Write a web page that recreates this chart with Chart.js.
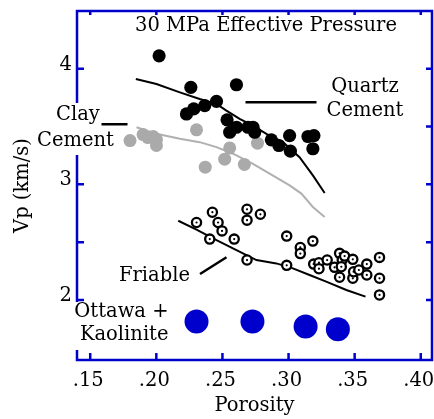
<!DOCTYPE html>
<html>
<head>
<meta charset="utf-8">
<script src="https://cdn.jsdelivr.net/npm/chart.js@4.4.1/dist/chart.umd.min.js"></script>
<style>
  html, body { margin: 0; padding: 0; background: #ffffff; }
  #c { display: block; }
</style>
</head>
<body>
<canvas id="c" width="434" height="419"></canvas>
<script>
// ---- Data (porosity, Vp km/s) ----
const quartzX = [0.2021, 0.2261, 0.2606, 0.2228, 0.2283, 0.2366, 0.2455, 0.2535, 0.2555, 0.2606, 0.2693, 0.2731, 0.2744, 0.2870, 0.2927, 0.3008, 0.3014, 0.3147, 0.3192, 0.3184];
const quartzY = [4.112, 3.839, 3.862, 3.609, 3.653, 3.681, 3.718, 3.558, 3.451, 3.494, 3.494, 3.494, 3.451, 3.385, 3.336, 3.422, 3.287, 3.414, 3.422, 3.308];

const clayX = [0.1801, 0.1900, 0.1936, 0.1976, 0.2001, 0.2001, 0.2304, 0.2370, 0.2517, 0.2555, 0.2666, 0.2765];
const clayY = [3.379, 3.431, 3.405, 3.414, 3.388, 3.336, 3.472, 3.149, 3.218, 3.315, 3.172, 3.356];

const friableX = [0.2304, 0.2424, 0.2467, 0.2497, 0.2404, 0.2589, 0.2686, 0.2686, 0.2787, 0.2686, 0.2986, 0.3184, 0.3089, 0.3089, 0.2986, 0.3190, 0.3230, 0.3230, 0.3292, 0.3386, 0.3406, 0.3348, 0.3386, 0.3424, 0.3399, 0.3486, 0.3486, 0.3492, 0.3532, 0.3592, 0.3592, 0.3688, 0.3688, 0.3688];
const friableY = [2.670, 2.759, 2.670, 2.597, 2.526, 2.526, 2.784, 2.690, 2.741, 2.345, 2.552, 2.509, 2.454, 2.401, 2.299, 2.310, 2.322, 2.270, 2.345, 2.403, 2.345, 2.282, 2.196, 2.379, 2.287, 2.351, 2.187, 2.244, 2.259, 2.310, 2.216, 2.368, 2.187, 2.043];

const ottawaX = [0.2304, 0.2727, 0.3129, 0.3373];
const ottawaY = [1.813, 1.813, 1.770, 1.747];

// model curves
const quartzLineX = [0.1845, 0.2001, 0.2178, 0.2328, 0.2455, 0.2530, 0.2630, 0.2731, 0.2832, 0.2958, 0.3083, 0.3184, 0.3273];
const quartzLineY = [3.911, 3.868, 3.796, 3.739, 3.696, 3.638, 3.566, 3.509, 3.437, 3.365, 3.235, 3.078, 2.925];

const clayLineX = [0.1850, 0.2001, 0.2178, 0.2328, 0.2455, 0.2580, 0.2731, 0.2857, 0.3008, 0.3097, 0.3184, 0.3273];
const clayLineY = [3.494, 3.437, 3.394, 3.365, 3.322, 3.265, 3.178, 3.092, 2.991, 2.920, 2.804, 2.718];

const friableLineX = [0.2166, 0.2304, 0.2455, 0.2606, 0.2757, 0.2908, 0.3033, 0.3159, 0.3285, 0.3437, 0.3582];
const friableLineY = [2.685, 2.609, 2.517, 2.431, 2.345, 2.316, 2.273, 2.216, 2.158, 2.086, 2.028];

// axes
const xTicks = [0.15, 0.20, 0.25, 0.30, 0.35, 0.40];
const yTicks = [2, 2.5, 3, 3.5, 4];
const xRange = [0.14, 0.4085];
const yRange = [1.48, 4.5];

const titleText = '30 MPa Effective Pressure';
const xTitle = 'Porosity';
const yTitle = 'Vp (km/s)';

function pts(xs, ys) { return xs.map((x, i) => ({ x: x, y: ys[i] })); }

const FONT = '"DejaVu Serif", "Liberation Serif", serif';
const FS = 19.5;
const BLUE = '#0000cc';

const framePlugin = {
  id: 'frame',
  afterDraw(chart) {
    const ctx = chart.ctx;
    const a = chart.chartArea;
    const xs = chart.scales.x, ys = chart.scales.y;
    ctx.save();
    ctx.strokeStyle = BLUE;
    ctx.lineWidth = 2.5;
    ctx.strokeRect(a.left, a.top, a.right - a.left, a.bottom - a.top);
    ctx.beginPath();
    xTicks.forEach(v => {
      const px = xs.getPixelForValue(v);
      ctx.moveTo(px, a.bottom); ctx.lineTo(px, a.bottom - 7);
      ctx.moveTo(px, a.top); ctx.lineTo(px, a.top + 4);
    });
    yTicks.forEach(v => {
      const py = ys.getPixelForValue(v);
      ctx.moveTo(a.left, py); ctx.lineTo(a.left + 7, py);
      ctx.moveTo(a.right, py); ctx.lineTo(a.right - 6, py);
    });
    ctx.stroke();

    // annotations
    ctx.fillStyle = '#ffffff';
    ctx.fillRect(34, 103, 82, 52);
    ctx.fillRect(72, 302, 98, 48);

    ctx.fillStyle = '#000000';
    ctx.textBaseline = 'middle';
    ctx.font = FS + 'px ' + FONT;
    ctx.textAlign = 'center';
    ctx.fillText(titleText, 266, 26);
    ctx.fillText('Quartz', 365, 87);
    ctx.fillText('Cement', 365, 111);
    ctx.textAlign = 'left';
    ctx.fillText('Clay', 56, 115);
    ctx.fillText('Cement', 37, 140.5);
    ctx.fillText('Friable', 119, 275.5);
    ctx.textAlign = 'right';
    ctx.fillText('Ottawa +', 168.5, 312);
    ctx.fillText('Kaolinite', 168.5, 334.5);

    ctx.strokeStyle = '#000000';
    ctx.lineWidth = 2.5;
    ctx.beginPath();
    ctx.moveTo(245.5, 102.3); ctx.lineTo(316.5, 102.3);
    ctx.moveTo(101.5, 124.3); ctx.lineTo(127.5, 124.3);
    ctx.moveTo(200, 274); ctx.lineTo(226.5, 257.3);
    ctx.stroke();
    ctx.restore();
  }
};

new Chart(document.getElementById('c'), {
  type: 'scatter',
  data: {
    datasets: [
      { data: pts(friableX, friableY), pointRadius: 1.1, pointBackgroundColor: '#000', pointBorderWidth: 0, showLine: false },
      { data: pts(friableX, friableY), pointRadius: 4.6, pointBackgroundColor: '#fff', pointBorderColor: '#000', pointBorderWidth: 2.3, showLine: false },
      { data: pts(ottawaX, ottawaY), pointRadius: 12, pointBackgroundColor: BLUE, pointBorderWidth: 0, showLine: false },
      { data: pts(quartzX, quartzY), pointRadius: 6.6, pointBackgroundColor: '#000', pointBorderWidth: 0, showLine: false },
      { data: pts(clayX, clayY), pointRadius: 6.5, pointBackgroundColor: '#aaaaaa', pointBorderWidth: 0, showLine: false },
      { data: pts(quartzLineX, quartzLineY), showLine: true, borderColor: '#000', borderWidth: 2, pointRadius: 0, tension: 0 },
      { data: pts(clayLineX, clayLineY), showLine: true, borderColor: '#b0b0b0', borderWidth: 2, pointRadius: 0, tension: 0 },
      { data: pts(friableLineX, friableLineY), showLine: true, borderColor: '#000', borderWidth: 2, pointRadius: 0, tension: 0 }
    ]
  },
  options: {
    responsive: false,
    devicePixelRatio: 1,
    animation: false,
    layout: { autoPadding: false, padding: { top: 11, right: 2, left: 0, bottom: 0 } },
    plugins: { legend: { display: false }, tooltip: { enabled: false } },
    scales: {
      x: {
        type: 'linear', min: xRange[0], max: xRange[1],
        afterBuildTicks(s) { s.ticks = xTicks.map(v => ({ value: v })); },
        afterFit(s) { s.height = 59; s.paddingLeft = 0; s.paddingRight = 0; },
        grid: { display: false, drawTicks: false },
        border: { display: false },
        ticks: {
          padding: 9, labelOffset: -2, color: '#000',
          font: { family: FONT, size: FS },
          maxRotation: 0, autoSkip: false,
          callback: v => '.' + String(Math.round(v * 100))
        },
        title: { display: true, text: xTitle, color: '#000', font: { family: FONT, size: FS }, padding: { top: 0, bottom: 1 } }
      },
      y: {
        type: 'linear', min: yRange[0], max: yRange[1],
        afterBuildTicks(s) { s.ticks = yTicks.map(v => ({ value: v })); },
        afterFit(s) { s.width = 77; s.paddingTop = 0; s.paddingBottom = 0; },
        grid: { display: false, drawTicks: false },
        border: { display: false },
        ticks: {
          padding: 5, labelOffset: -4, color: '#000',
          font: { family: FONT, size: FS },
          autoSkip: false,
          callback: v => Number.isInteger(v) ? String(v) : ''
        },
        title: { display: true, text: yTitle, color: '#000', font: { family: FONT, size: FS }, padding: { top: 11, bottom: 0 } }
      }
    }
  },
  plugins: [framePlugin]
});
</script>
</body>
</html>
